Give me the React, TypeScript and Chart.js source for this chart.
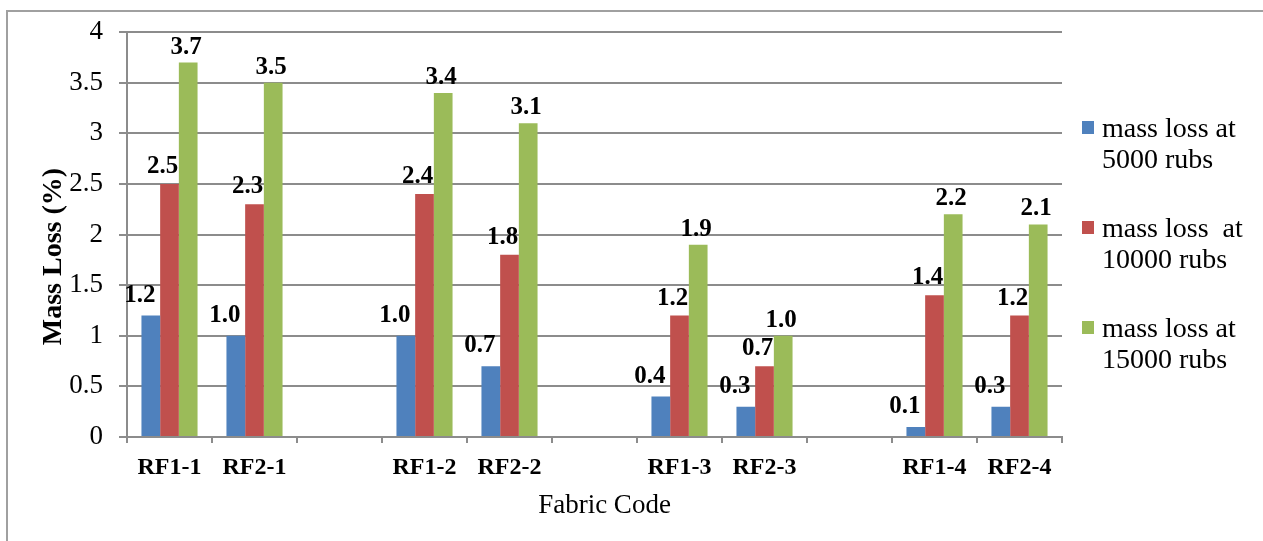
import { useEffect, useRef } from "react";
import { Chart, registerables } from "chart.js";

Chart.register(...registerables);

const categories = ["RF1-1", "RF2-1", "", "RF1-2", "RF2-2", "", "RF1-3", "RF2-3", "", "RF1-4", "RF2-4"];
const loss5000 = [1.2, 1.0, null, 1.0, 0.7, null, 0.4, 0.3, null, 0.1, 0.3];
const loss10000 = [2.5, 2.3, null, 2.4, 1.8, null, 1.2, 0.7, null, 1.4, 1.2];
const loss15000 = [3.7, 3.5, null, 3.4, 3.1, null, 1.9, 1.0, null, 2.2, 2.1];
const legendLines = [
  ["mass loss at", "5000 rubs"],
  ["mass loss  at", "10000 rubs"],
  ["mass loss at", "15000 rubs"],
];
const seriesColors = ["#4F81BD", "#C0504D", "#9BBB59"];
const yTitle = "Mass Loss (%)";
const xTitle = "Fabric Code";

const SERIF = '"Liberation Serif", "Times New Roman", serif';
const labelNudge = [
  { dx: -11, gap: 14 },
  { dx: -7, gap: 11 },
  { dx: -2, gap: 9 },
];

const decorPlugin = {
  id: "decor",
  afterDatasetsDraw(chart: any) {
    const ctx = chart.ctx as CanvasRenderingContext2D;
    const area = chart.chartArea;
    ctx.save();
    ctx.fillStyle = "#000";
    // data labels
    ctx.font = `bold 25px ${SERIF}`;
    ctx.textAlign = "center";
    ctx.textBaseline = "alphabetic";
    chart.data.datasets.forEach((ds: any, i: number) => {
      const meta = chart.getDatasetMeta(i);
      meta.data.forEach((el: any, j: number) => {
        const v = ds.data[j];
        if (v == null) return;
        ctx.fillText(Number(v).toFixed(1), el.x + labelNudge[i].dx, el.y - labelNudge[i].gap);
      });
    });
    // x title
    ctx.font = `27px ${SERIF}`;
    ctx.fillText(xTitle, (area.left + area.right) / 2 + 10, area.bottom + 76);
    // y title
    ctx.save();
    ctx.translate(61, (area.top + area.bottom) / 2 + 22);
    ctx.rotate(-Math.PI / 2);
    ctx.font = `bold 28px ${SERIF}`;
    ctx.fillText(yTitle, 0, 0);
    ctx.restore();
    // legend
    ctx.textAlign = "left";
    ctx.font = `28px ${SERIF}`;
    legendLines.forEach((lines, i) => {
      const top = 121 + i * 100;
      ctx.fillStyle = seriesColors[i];
      ctx.fillRect(area.right + 20, top, 12, 13);
      ctx.fillStyle = "#000";
      lines.forEach((t, k) => {
        ctx.fillText(t, area.right + 40, top + 16 + k * 31);
      });
    });
    ctx.restore();
  },
};

export default function App() {
  const canvasRef = useRef<HTMLCanvasElement | null>(null);

  useEffect(() => {
    const canvas = canvasRef.current;
    if (!canvas) return;
    const gridColor = "#8c8c8c";
    const chart = new Chart(canvas, {
      type: "bar",
      data: {
        labels: categories,
        datasets: [
          { label: legendLines[0].join(" "), data: loss5000, backgroundColor: seriesColors[0] },
          { label: legendLines[1].join(" "), data: loss10000, backgroundColor: seriesColors[1] },
          { label: legendLines[2].join(" "), data: loss15000, backgroundColor: seriesColors[2] },
        ],
      },
      options: {
        responsive: false,
        animation: false,
        devicePixelRatio: 1,
        datasets: { bar: { barPercentage: 1, categoryPercentage: 0.66 } },
        layout: { padding: { left: 0, top: 32, right: 201, bottom: 0 } },
        plugins: { legend: { display: false }, tooltip: { enabled: false }, title: { display: false } },
        scales: {
          x: {
            offset: true,
            grid: { drawOnChartArea: false, drawTicks: true, tickLength: 6, color: gridColor, lineWidth: 2, offset: true },
            border: { display: true, color: gridColor, width: 2 },
            ticks: {
              autoSkip: false,
              maxRotation: 0,
              padding: 10,
              color: "#000",
              font: { family: SERIF, size: 24, weight: "bold" },
            },
            afterFit: (s: any) => {
              s.height = 104;
            },
          },
          y: {
            min: 0,
            max: 4,
            grid: { color: gridColor, lineWidth: 2, tickLength: 8, drawTicks: true },
            border: { display: true, color: gridColor, width: 2 },
            ticks: {
              stepSize: 0.5,
              padding: 16,
              color: "#000",
              font: { family: SERIF, size: 27 },
              callback: (v: any) => String(Number(v)),
            },
            afterFit: (s: any) => {
              s.width = 127;
            },
          },
        },
      },
      plugins: [decorPlugin],
    } as any);
    return () => chart.destroy();
  }, []);

  return (
    <div style={{ position: "absolute", left: 0, top: 0, width: 1263, height: 541, overflow: "hidden", background: "#fff" }}>
      <div
        style={{
          position: "absolute",
          left: 6,
          top: 10,
          right: 0,
          bottom: 0,
          borderTop: "2px solid #a0a0a0",
          borderLeft: "2px solid #a0a0a0",
        }}
      />
      <canvas ref={canvasRef} width={1263} height={541} style={{ position: "absolute", left: 0, top: 0 }} />
    </div>
  );
}
